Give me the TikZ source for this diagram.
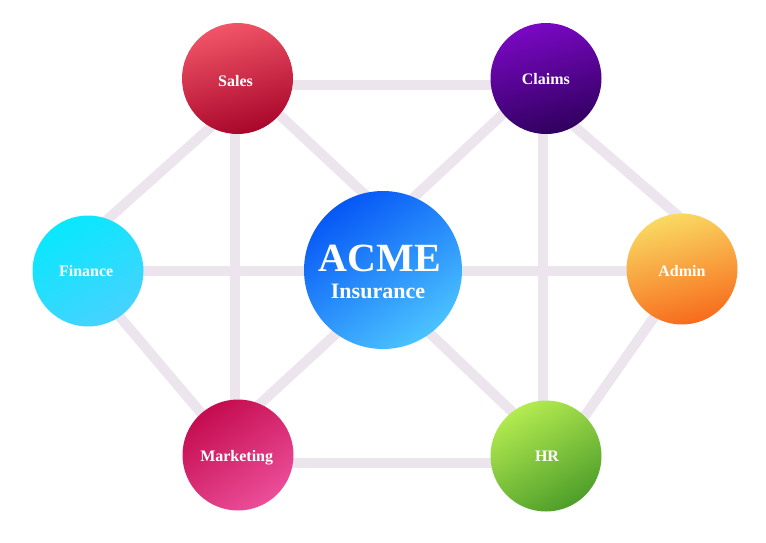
\documentclass[tikz,border=0pt]{standalone}
\usepackage{fontspec}
\setmainfont{Liberation Serif}
\usetikzlibrary{backgrounds}
\definecolor{edgec}{HTML}{ECE5EE}
\definecolor{salesA}{HTML}{F25567}
\definecolor{salesB}{HTML}{A8062B}
\definecolor{claimsA}{HTML}{7A08C4}
\definecolor{claimsB}{HTML}{30005E}
\definecolor{finA}{HTML}{08E8FE}
\definecolor{finB}{HTML}{46D2FE}
\definecolor{acmeA}{HTML}{0657F6}
\definecolor{acmeB}{HTML}{4BC3FF}
\definecolor{adminA}{HTML}{F9DA62}
\definecolor{adminB}{HTML}{F76B1C}
\definecolor{mktA}{HTML}{C40C4F}
\definecolor{mktB}{HTML}{EC4E9A}
\definecolor{hrA}{HTML}{B3EB50}
\definecolor{hrB}{HTML}{4E9E2A}
\begin{document}
\begin{tikzpicture}[x=1pt,y=-1pt,
  hub/.style={circle, draw=none, minimum size=111pt, inner sep=0pt},
  lbl/.style={anchor=base, text=white, inner sep=0pt, font=\bfseries\fontsize{16}{16}\selectfont},
  link/.style={draw=edgec, line width=10pt}]
\useasboundingbox (0,0) rectangle (766,542);
% circles
\node[hub, top color=salesA, bottom color=salesB, shading angle=15] (sales) at (237.5,78.5) {};
\node[hub, top color=claimsA, bottom color=claimsB, shading angle=15] (claims) at (546,78.5) {};
\node[hub, top color=finA, bottom color=finB, shading angle=30] (finance) at (88,271) {};
\node[hub, minimum size=158pt, top color=acmeA, bottom color=acmeB, shading angle=35] (acme) at (383,270) {};
\node[hub, top color=adminA, bottom color=adminB, shading angle=15] (admin) at (682,269) {};
\node[hub, top color=mktA, bottom color=mktB, shading angle=35] (marketing) at (238,455) {};
\node[hub, top color=hrA, bottom color=hrB, shading angle=30] (hr) at (546,456) {};
% labels
\node[lbl] (salesT) at (235.5,86) {Sales};
\node[lbl] (claimsT) at (545.8,84) {Claims};
\node[lbl] (financeT) at (86.2,276) {Finance};
\node[lbl] (adminT) at (682,276) {Admin};
\node[lbl] (marketingT) at (236.7,461.7) {Marketing};
\node[lbl] (hrT) at (547,461.7) {HR};
\node[lbl, font=\bfseries\fontsize{40}{40}\selectfont] (acmeT) at (380,271) {ACME};
\node[lbl, font=\bfseries\fontsize{22}{22}\selectfont] (acmeS) at (378,298) {Insurance};
% connectors
\begin{scope}[on background layer]
\draw[link] ([shift={(0,6.5)}]sales.center) -- ([shift={(0,6.5)}]claims.center);
\draw[link] ([shift={(-2.5,0)}]sales.center) -- ([shift={(-3,0)}]marketing.center);
\draw[link] ([shift={(-3,0)}]claims.center) -- ([shift={(-3,0)}]hr.center);
\draw[link] (finance.center) -- ([shift={(0,1)}]acme.center);
\draw[link] ([shift={(0,1)}]acme.center) -- ([shift={(0,2)}]admin.center);
\draw[link] ([shift={(12.5,13.5)}]sales.center) -- ([shift={(2,-36)}]finance.center);
\draw[link] ([shift={(9,19)}]finance.center) -- ([shift={(-14,-15)}]marketing.center);
\draw[link] ([shift={(14,35.5)}]claims.center) -- ([shift={(8,-43)}]admin.center);
\draw[link] ([shift={(-9,21)}]admin.center) -- ([shift={(29,-26)}]hr.center);
\draw[link] ([shift={(17.5,13.5)}]sales.center) -- ([shift={(20,-40)}]acme.center);
\draw[link] ([shift={(-26,19.5)}]claims.center) -- ([shift={(-4,-40)}]acme.center);
\draw[link] ([shift={(12,-42)}]marketing.center) -- ([shift={(-13,32.7)}]acme.center);
\draw[link] ([shift={(-21,-32)}]hr.center) -- ([shift={(17,35)}]acme.center);
\draw[link] ([shift={(0,8)}]marketing.center) -- ([shift={(0,7)}]hr.center);
\end{scope}
\end{tikzpicture}
\end{document}
